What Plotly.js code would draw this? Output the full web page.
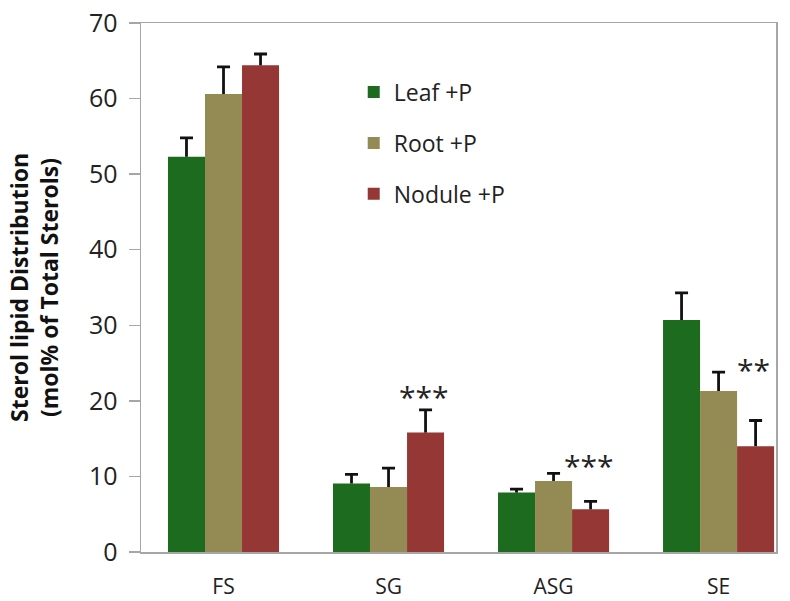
<!DOCTYPE html>
<html>
<head>
<meta charset="utf-8">
<script src="https://cdn.plot.ly/plotly-3.0.1.min.js"></script>
<style>html,body{margin:0;padding:0;background:#fff;}#chart{width:790px;height:601px;}</style>
</head>
<body>
<div id="chart"></div>
<script>
// Data
const categories = ["FS", "SG", "ASG", "SE"];
const leafValues   = [52.3, 9.06, 7.86, 30.7];
const leafErrors   = [2.5, 1.2, 0.45, 3.6];
const rootValues   = [60.6, 8.6, 9.4, 21.3];
const rootErrors   = [3.6, 2.5, 1.0, 2.5];
const noduleValues = [64.4, 15.8, 5.65, 14.0];
const noduleErrors = [1.5, 3.0, 1.05, 3.4];
const seriesNames  = ["Leaf +P", "Root +P", "Nodule +P"];
const sigCategories = ["SG", "ASG", "SE"];
const sigLabels     = ["***", "***", "**"];
const sigLevels     = [21.1, 12.0, 24.7];
const yTickValues   = [0, 10, 20, 30, 40, 50, 60, 70];

const colors = ["#1d6b1f", "#948a54", "#953735"];
const FONT = "Open Sans, Liberation Sans, sans-serif";

function barTrace(name, vals, errs, color, idx) {
  return {
    type: "bar",
    name: name,
    x: categories,
    y: vals,
    offsetgroup: String(idx),
    legendgroup: "g" + idx,
    marker: {color: color, line: {width: 0}},
    error_y: {
      type: "data",
      symmetric: false,
      array: errs,
      arrayminus: errs.map(() => 0),
      color: "#111111",
      thickness: 2.8,
      width: 0
    },
    hoverinfo: "x+y+name"
  };
}

// transparent companion trace that only draws the top cap of each error bar
function capTrace(vals, errs, idx) {
  return {
    type: "bar",
    x: categories,
    y: vals.map((v, i) => v + errs[i]),
    offsetgroup: String(idx),
    legendgroup: "g" + idx,
    showlegend: false,
    hoverinfo: "skip",
    marker: {color: "rgba(0,0,0,0)", line: {width: 0}},
    error_y: {
      type: "data",
      array: errs.map(() => 0),
      color: "#111111",
      thickness: 2.8,
      width: 6.5
    }
  };
}

const data = [
  barTrace(seriesNames[0], leafValues, leafErrors, colors[0], 0),
  barTrace(seriesNames[1], rootValues, rootErrors, colors[1], 1),
  barTrace(seriesNames[2], noduleValues, noduleErrors, colors[2], 2),
  capTrace(leafValues, leafErrors, 0),
  capTrace(rootValues, rootErrors, 1),
  capTrace(noduleValues, noduleErrors, 2)
];

const annotations = sigCategories.map((c, i) => ({
  x: c, y: sigLevels[i], xref: "x", yref: "y",
  text: sigLabels[i], showarrow: false,
  xshift: 35, yshift: -4,
  xanchor: "center", yanchor: "middle",
  font: {family: FONT, size: 30, color: "#222"}
}));

const layout = {
  width: 790, height: 601,
  margin: {l: 141, r: 14, t: 23, b: 49},
  paper_bgcolor: "#ffffff",
  plot_bgcolor: "#ffffff",
  barmode: "group",
  bargap: 0.327,
  bargroupgap: 0,
  showlegend: true,
  legend: {
    x: 0.335, y: 0.91, xanchor: "left", yanchor: "top",
    font: {family: FONT, size: 23, color: "#222"},
    bgcolor: "rgba(0,0,0,0)",
    tracegroupgap: 18,
    itemclick: false
  },
  xaxis: {
    type: "category",
    range: [-0.5, 3.348],
    showline: true, linecolor: "#a6a6a6", linewidth: 1.5,
    mirror: true,
    ticks: "", showgrid: false, zeroline: false,
    tickfont: {family: FONT, size: 21, color: "#222"},
    ticklabelstandoff: 15
  },
  yaxis: {
    range: [0, 70],
    tickvals: yTickValues,
    showline: true, linecolor: "#a6a6a6", linewidth: 1.5,
    mirror: true,
    ticks: "outside", ticklen: 11, tickwidth: 1.5, tickcolor: "#a6a6a6",
    showgrid: false, zeroline: false,
    tickfont: {family: FONT, size: 25, color: "#222"},
    ticklabelstandoff: 6,
    title: {
      text: "Sterol lipid Distribution<br>(mol% of Total Sterols)",
      font: {family: FONT, size: 23, color: "#111", weight: "bold"},
      standoff: 24
    }
  },
  annotations: annotations
};

Plotly.newPlot("chart", data, layout, {displayModeBar: false, staticPlot: true});
</script>
</body>
</html>
